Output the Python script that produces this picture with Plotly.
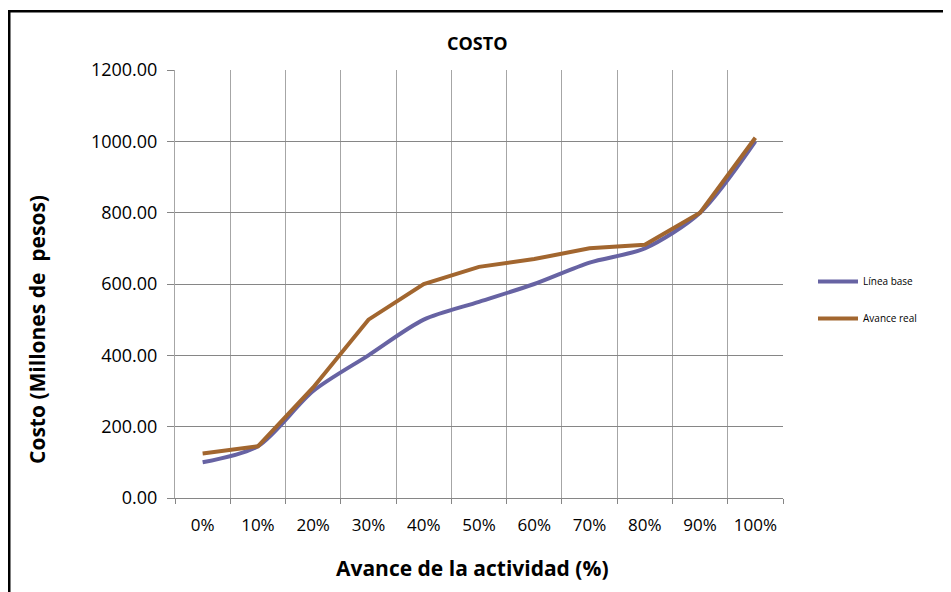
import plotly.graph_objects as go

categorias = ["0%", "10%", "20%", "30%", "40%", "50%", "60%", "70%", "80%", "90%", "100%"]
linea_base = [100, 145, 300, 400, 500, 550, 600, 660, 700, 800, 1000]
avance_real = [125, 145, 310, 500, 600, 648, 670, 700, 710, 800, 1010]

FONT = "Open Sans"
OFF = 8  # page body margin
W, H = 951 - OFF, 592 - OFF
L, R, T, B = 175 - OFF, 783 - OFF, 70 - OFF, 498 - OFF

def px(x):
    return (x - OFF - L) / (R - L)

def py(y):
    return (B - (y - OFF)) / (B - T)

fig = go.Figure()
fig.add_trace(go.Scatter(
    x=categorias, y=linea_base, name="Línea base", mode="lines",
    line=dict(color="#6763A3", width=4, shape="spline", smoothing=0.8),
    legendgroup="a",
))
fig.add_trace(go.Scatter(
    x=categorias, y=avance_real, name="Avance real", mode="lines",
    line=dict(color="#A2662F", width=4),
    legendgroup="b",
))

fig.update_layout(
    width=W, height=H,
    margin=dict(l=L, r=W - R, t=T, b=H - B),
    paper_bgcolor="white", plot_bgcolor="white",
    font=dict(family=FONT, color="black"),
    showlegend=True,
    legend=dict(
        x=px(813), y=py(267), xanchor="left", yanchor="top",
        font=dict(size=10, family=FONT), tracegroupgap=18,
        itemwidth=40,
        bgcolor="rgba(0,0,0,0)",
    ),
    xaxis=dict(
        type="category", tickson="boundaries", showgrid=True,
        gridcolor="#A6A6A6", gridwidth=1,
        showline=True, linecolor="#868686", linewidth=1,
        ticks="outside", ticklen=5, tickcolor="#868686",
        tickfont=dict(size=17, family=FONT), ticklabelstandoff=12,
        range=[-0.5, 10.5],
    ),
    yaxis=dict(
        range=[0, 1200], dtick=200, tickformat=".2f",
        showgrid=True, gridcolor="#868686", gridwidth=1,
        showline=True, linecolor="#A6A6A6", linewidth=1,
        ticks="outside", ticklen=7, tickcolor="#868686",
        tickfont=dict(size=18, family=FONT), ticklabelstandoff=6,
        zeroline=False,
    ),
    annotations=[
        dict(text="<b>COSTO</b>", x=px(477), y=py(43), xref="paper", yref="paper",
             showarrow=False, font=dict(size=18, family=FONT), xanchor="center", yanchor="middle"),
        dict(text="<b>Costo (Millones de  pesos)</b>", x=px(37), y=py(330), xref="paper", yref="paper",
             showarrow=False, textangle=-90, font=dict(size=21, family=FONT), xanchor="center", yanchor="middle"),
        dict(text="<b>Avance de la actividad (%)</b>", x=px(472), y=py(568), xref="paper", yref="paper",
             showarrow=False, font=dict(size=21, family=FONT), xanchor="center", yanchor="middle"),
    ],
    shapes=[
        dict(type="rect", xref="paper", yref="paper",
             x0=px(9.25), x1=px(975), y0=py(620), y1=py(11.25),
             line=dict(color="black", width=2.5), fillcolor="rgba(0,0,0,0)", layer="above"),
    ],
)

fig.write_html("out.html")
